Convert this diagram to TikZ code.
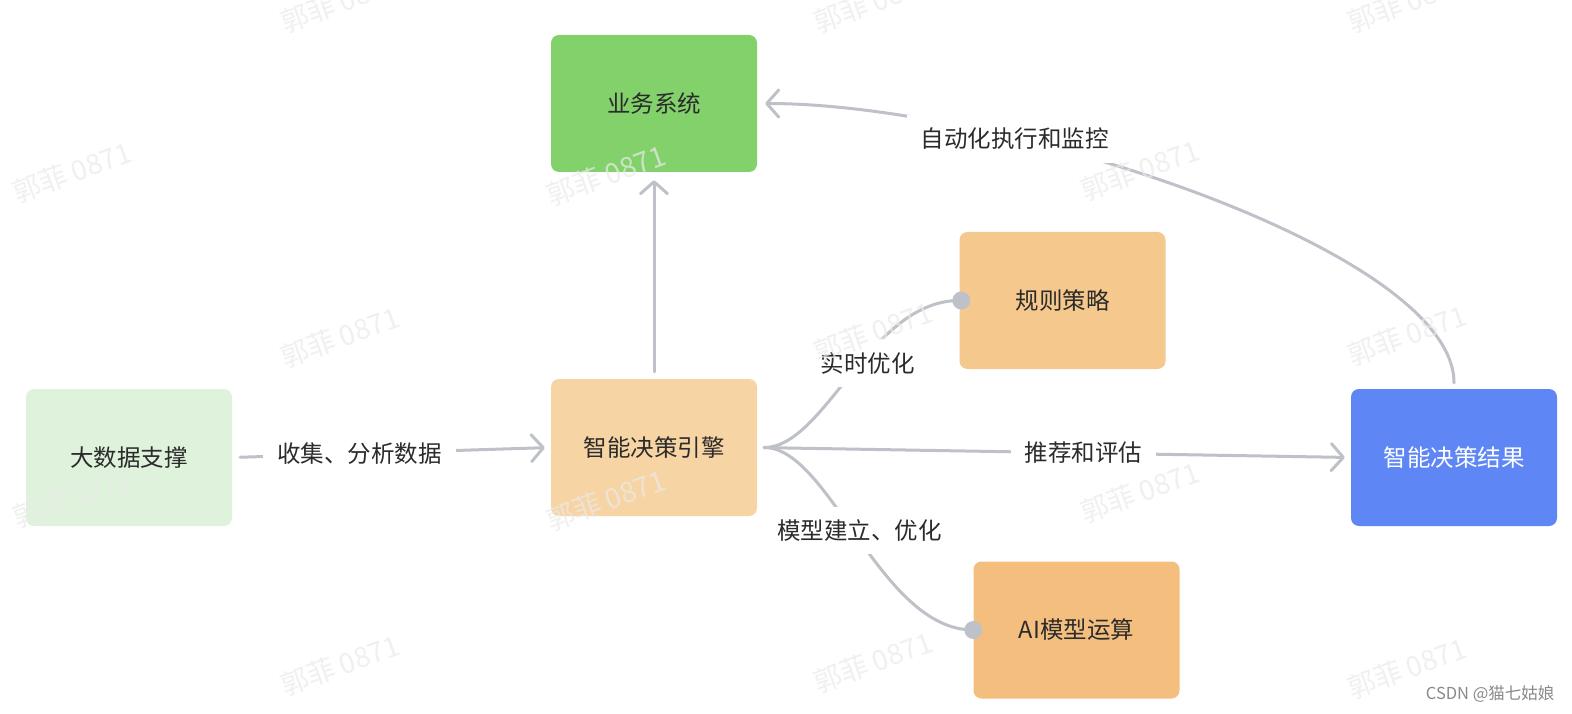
\documentclass[tikz,border=0pt]{standalone}
\usepackage{fontspec}
\setmainfont{Noto Sans CJK SC}
\usetikzlibrary{arrows.meta}
\definecolor{bizgreen}{RGB}{130,209,106}
\definecolor{engineor}{RGB}{247,212,164}
\definecolor{datagreen}{RGB}{223,243,220}
\definecolor{ruleor}{RGB}{245,200,141}
\definecolor{aior}{RGB}{244,191,126}
\definecolor{resblue}{RGB}{94,134,244}
\definecolor{conncol}{RGB}{191,193,200}
\definecolor{txtcol}{RGB}{43,43,43}
\definecolor{wmcol}{RGB}{234,234,234}
\definecolor{csdncol}{RGB}{138,138,138}
\tikzset{
  box/.style={rounded corners=8pt, minimum width=206pt, minimum height=137pt, inner sep=0pt,
    font=\fontsize{23.5}{27}\selectfont, text=txtcol},
  conn/.style={draw=conncol, line width=3pt, line cap=round},
  arr/.style={-{Straight Barb[length=12pt,width=27pt,round]}},
  lbl/.style={fill=white, inner xsep=14pt, inner ysep=13pt, font=\fontsize{23.5}{27}\selectfont, text=txtcol},
  wm/.style={rotate=20, font=\fontsize{28}{32}\selectfont, text=wmcol, text opacity=0.7, inner sep=0pt},
  dot/.style={fill=conncol}
}
\begin{document}
\begin{tikzpicture}[x=1pt,y=-1pt]
\fill[white] (0,0) rectangle (1572,714);
\useasboundingbox (0,0) rectangle (1572,714);

\node[box, fill=bizgreen] (biz) at (654,103.5) {业务系统};
\node[box, fill=engineor] (engine) at (654,447.5) {智能决策引擎};
\node[box, fill=datagreen] (data) at (129,457.5) {大数据支撑};
\node[box, fill=ruleor] (rule) at (1062.5,300.5) {规则策略};
\node[box, fill=aior] (ai) at (1076.5,630) {AI模型运算};
\node[box, fill=resblue, text=white] (result) at (1454,457.5) {智能决策结果};

% edges
\draw[conn, arr, shorten <=8pt, shorten >=6pt] (data.east) -- node[lbl, pos=0.4] (l1) {收集、分析数据} (engine.west);
\draw[conn, arr, shorten <=7pt, shorten >=8pt] (engine.north) -- (biz.south);
\draw[conn, arr, shorten <=6pt, shorten >=8pt] (result.north) .. controls (1454,250) and (1000,103.5) .. node[lbl, pos=0.7] (l3) {自动化执行和监控} (biz.east);
\draw[conn, arr, shorten <=7pt, shorten >=6pt] (engine.east) -- node[lbl, pos=0.55] (l4) {推荐和评估} (result.west);
\draw[conn, shorten <=7pt] (engine.east) .. controls (825,447.5) and (870,300.5) .. node[lbl, pos=0.55, xshift=8pt] (l5) {实时优化} (rule.west);
\draw[conn, shorten <=7pt] (engine.east) .. controls (830,447.5) and (880,630) .. node[lbl, pos=0.47, xshift=8pt, inner xsep=6pt] (l6) {模型建立、优化} (ai.west);
\fill[dot] (rule.west) ++(2pt,0) circle (9pt);
\fill[dot] (ai.west) circle (9pt);

% watermarks
\foreach \x/\y [count=\i] in {340/2, 873/2, 1407/2, 72/172, 606/175, 1140/170, 340/337, 873/332, 1407/335, 72/497, 606/500, 1140/492, 340/665, 873/662, 1407/668} {
  \node[wm] (wm\i) at (\x,\y) {郭菲 0871};
}
\node[anchor=east, font=\fontsize{16.5}{18}\selectfont, text=csdncol] (csdn) at (1558,694) {CSDN @猫七姑娘};
\end{tikzpicture}
\end{document}
